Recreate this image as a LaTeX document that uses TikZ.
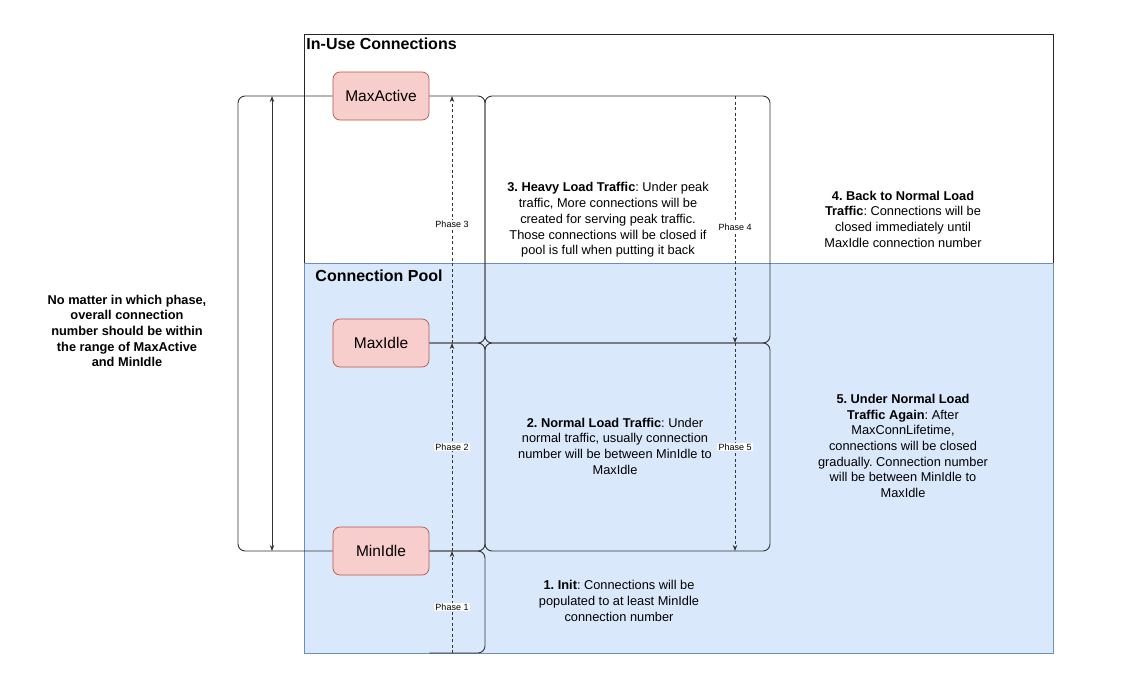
\documentclass[tikz,border=0pt]{standalone}
\usepackage{fontspec}
\setmainfont{Liberation Sans}
\usetikzlibrary{positioning,calc,arrows.meta}
\frenchspacing

\definecolor{limitfill}{HTML}{F8CECC}
\definecolor{limitdraw}{HTML}{B85450}
\definecolor{poolfill}{HTML}{DAE8FC}
\definecolor{pooldraw}{HTML}{6C8EBF}

\begin{document}
\begin{tikzpicture}[x=1pt,y=-1pt,line width=0.9pt,
    limit/.style={rectangle,rounded corners=7pt,draw=limitdraw,fill=limitfill,line width=0.7pt,minimum width=96pt,minimum height=48pt,font=\fontsize{15.5}{18}\selectfont},
    bracket/.style={draw=black!80,rounded corners=7pt},
    phase/.style={draw=black!80,dash pattern=on 3pt off 2.5pt,-{Stealth[length=6pt,width=4.5pt]}},
    phaselabel/.style={fill=white,inner sep=1pt,font=\fontsize{9}{10}\selectfont},
    note/.style={align=center,font=\fontsize{12.8}{15.7}\selectfont},
    title/.style={anchor=west,inner sep=0pt,font=\bfseries\fontsize{16}{18}\selectfont}]
    \useasboundingbox (0,0) rectangle (1139,693);

    % in-use frame and pool
    \draw[black!85,fill=white] (304,34) rectangle (1053,653);
    \draw[pooldraw,fill=poolfill] (304,263) rectangle (1053,653);
    \node[title] (inuse) at (306,44) {In-Use Connections};
    \node[title] (pool) at (315,276) {Connection Pool};

    % guide coordinates
    \coordinate (wall) at (238,0);
    \coordinate (span) at (272,0);
    \coordinate (rail) at (452,0);
    \coordinate (lane) at (485,0);
    \coordinate (back) at (735,0);
    \coordinate (edge) at (770,0);
    \coordinate (floor) at (0,653);

    % limits
    \node[limit] (maxactive) at (381,96) {MaxActive};
    \node[limit] (maxidle) at (381,343) {MaxIdle};
    \node[limit] (minidle) at (381,551) {MinIdle};

    % overall range
    \draw[bracket] (maxactive.west) -- (maxactive.west -| wall) -- (minidle.west -| wall) -- (minidle.west);
    \draw[black!80,{Stealth[length=6pt,width=4.5pt]}-{Stealth[length=6pt,width=4.5pt]}] (maxactive.west -| span) -- (minidle.west -| span);

    % phase brackets
    \draw[bracket] (maxactive.east) -- (maxactive.east -| lane) -- (maxidle.east -| lane) -- (maxidle.east);
    \draw[bracket] (maxidle.east) -- (maxidle.east -| lane) -- (minidle.east -| lane) -- (minidle.east);
    \draw[bracket] (minidle.east) -- (minidle.east -| lane) -- (lane |- floor) -- (minidle.east |- floor);
    \draw[bracket] (maxactive.east -| lane) rectangle (maxidle.east -| edge);
    \draw[bracket] (maxidle.east -| lane) rectangle (minidle.east -| edge);

    % phases
    \draw[phase] (rail |- floor) -- (minidle.east -| rail) node[phaselabel,pos=0.45] {Phase 1};
    \draw[phase] (minidle.east -| rail) -- (maxidle.east -| rail) node[phaselabel,midway] {Phase 2};
    \draw[phase] (maxidle.east -| rail) -- (maxactive.east -| rail) node[phaselabel,pos=0.48] {Phase 3};
    \draw[phase] (maxactive.east -| back) -- (maxidle.east -| back) node[phaselabel,pos=0.53] {Phase 4};
    \draw[phase] (maxidle.east -| back) -- (minidle.east -| back) node[phaselabel,midway] {Phase 5};

    % notes
    \node[note] (heavy) at (608,220) {\textbf{3. Heavy Load Traffic}: Under peak\\traffic, More connections will be\\created for serving peak traffic.\\Those connections will be closed if\\pool is full when putting it back};
    \node[note] (backnormal) at (903,219) {\textbf{4. Back to Normal Load}\\\textbf{Traffic}: Connections will be\\closed immediately until\\MaxIdle connection number};
    \node[note] (normal) at (615,446) {\textbf{2. Normal Load Traffic}: Under\\normal traffic, usually connection\\number will be between MinIdle to\\MaxIdle};
    \node[note] (again) at (903,446) {\textbf{5. Under Normal Load}\\\textbf{Traffic Again}: After\\MaxConnLifetime,\\connections will be closed\\gradually. Connection number\\will be between MinIdle to\\MaxIdle};
    \node[note] (init) at (619,601) {\textbf{1. Init}: Connections will be\\populated to at least MinIdle\\connection number};
    \node[note,font=\bfseries\fontsize{12.8}{15.7}\selectfont] (range) at (127,331) {No matter in which phase,\\overall connection\\number should be within\\the range of MaxActive\\and MinIdle};
\end{tikzpicture}
\end{document}
